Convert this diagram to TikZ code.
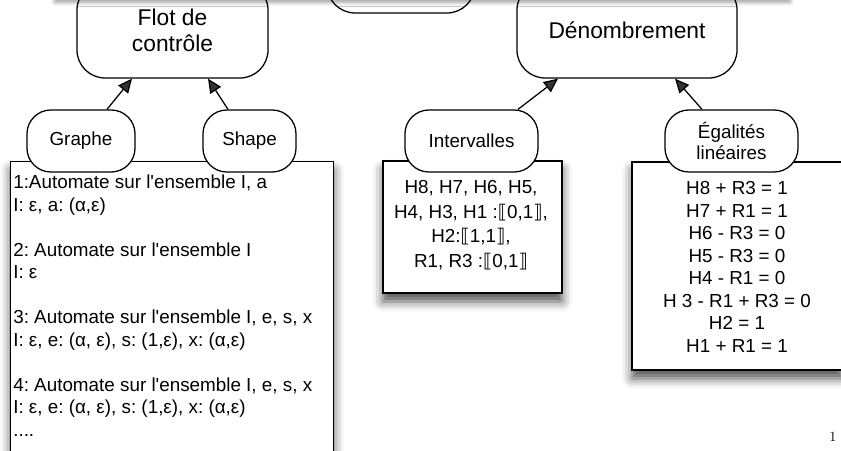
\documentclass[tikz,border=0pt]{standalone}
\usepackage{fontspec}
\setsansfont{Liberation Sans}
\newfontfamily\symfont{DejaVu Sans}
\usetikzlibrary{arrows.meta,positioning,calc,shadows.blur}
\newcommand{\lbr}{{\symfont ⟦}}
\newcommand{\rbr}{{\symfont ⟧}}
\frenchspacing

\begin{document}
\begin{tikzpicture}[x=0.025cm,y=-0.025cm,
  bulle/.style={draw,fill=white,line width=0.9pt,rounded corners=20pt,align=center,inner sep=0pt},
  grande/.style={bulle,font=\sffamily\fontsize{16.2}{18.5}\selectfont,minimum height=2.4cm},
  petite/.style={bulle,font=\sffamily\fontsize{13.4}{14.5}\selectfont,minimum height=1.55cm,rounded corners=17pt},
  cadre/.style={draw,fill=white,line width=0.9pt,blur shadow={shadow xshift=0pt,shadow yshift=-6pt,shadow blur radius=7pt,shadow opacity=70}},
  fleche/.style={line width=0.9pt,-{Triangle[length=10pt,width=9pt]}},
  texte/.style={font=\sffamily\fontsize{13.4}{16}\selectfont,inner sep=0pt}]

  \useasboundingbox (0,0) rectangle (841,451);
  \clip (0,0) rectangle (841,451);

  % Top nodes
  \node[grande,minimum width=4.775cm] (flot) at (172.5,30) {Flot de\\contrôle};
  \node[grande,minimum width=3.7cm,minimum height=1.65cm] (milieu) at (401,-20) {};
  \node[grande,minimum width=5.5cm] (denombrement) at (627,30) {Dénombrement};

  % Title shadow
  \fill[white,blur shadow={shadow xshift=0pt,shadow yshift=-3pt,shadow blur radius=3pt,shadow opacity=40}]
    (55,-80) rectangle (790,-2);

  % Boxes
  \node[cadre,minimum width=8.075cm,minimum height=9cm,anchor=north west] (boite1) at (10,161) {};
  \node[cadre,minimum width=4.475cm,minimum height=3.3cm] (boite2) at (472.5,227) {};
  \node[cadre,minimum width=5.25cm,minimum height=5.2cm] (boite3) at (737,266) {};

  % Box texts
  \node[texte,align=left,anchor=north west] (txt1) at (13,175)
    {1:Automate sur l\textquotesingle ensemble I, a\\
     I: ε, a: (α,ε)\\[16pt]
     2: Automate sur l\textquotesingle ensemble I\\
     I: ε\\[16pt]
     3: Automate sur l\textquotesingle ensemble I, e, s, x\\
     I: ε, e: (α, ε), s: (1,ε), x: (α,ε)\\[16pt]
     4: Automate sur l\textquotesingle ensemble I, e, s, x\\
     I: ε, e: (α, ε), s: (1,ε), x: (α,ε)\\
     ....};
  \node[texte,align=center,font=\sffamily\fontsize{13.4}{17.5}\selectfont] (txt2) at (471,225)
    {H8, H7, H6, H5,\\
     H4, H3, H1 :\lbr 0,1\rbr,\\
     H2:\lbr 1,1\rbr,\\
     R1, R3 :\lbr 0,1\rbr};
  \node[texte,align=center] (txt3) at (737,267)
    {H8 + R3 = 1\\ H7 + R1 = 1\\ H6 - R3 = 0\\ H5 - R3 = 0\\
     H4 - R1 = 0\\ H 3 - R1 + R3 = 0\\ H2 = 1\\ H1 + R1 = 1};

  % Small nodes
  \node[petite,minimum width=2.7cm] (graphe) at (81,141) {Graphe};
  \node[petite,minimum width=2.325cm] (shape) at (249.5,141) {Shape};
  \node[petite,minimum width=3.325cm] (intervalles) at (471.5,141) {Intervalles};
  \node[petite,minimum width=3.325cm] (egalites) at (731.5,141) {Égalités\\linéaires};

  % Arrows
  \draw[fleche] ($(graphe.north)+(26,0)$) -- ($(flot.south)+(-40.5,0)$);
  \draw[fleche] ($(shape.north)+(-21.5,0)$) -- ($(flot.south)+(35.5,0)$);
  \draw[fleche] ($(intervalles.north)+(46.5,0)$) -- ($(denombrement.south)+(-69,0)$);
  \draw[fleche] ($(egalites.north)+(-29.5,0)$) -- ($(denombrement.south)+(48,0)$);

  % Page number
  \node[font=\fontsize{10}{12}\selectfont] (page) at (833,437) {1};
\end{tikzpicture}
\end{document}
